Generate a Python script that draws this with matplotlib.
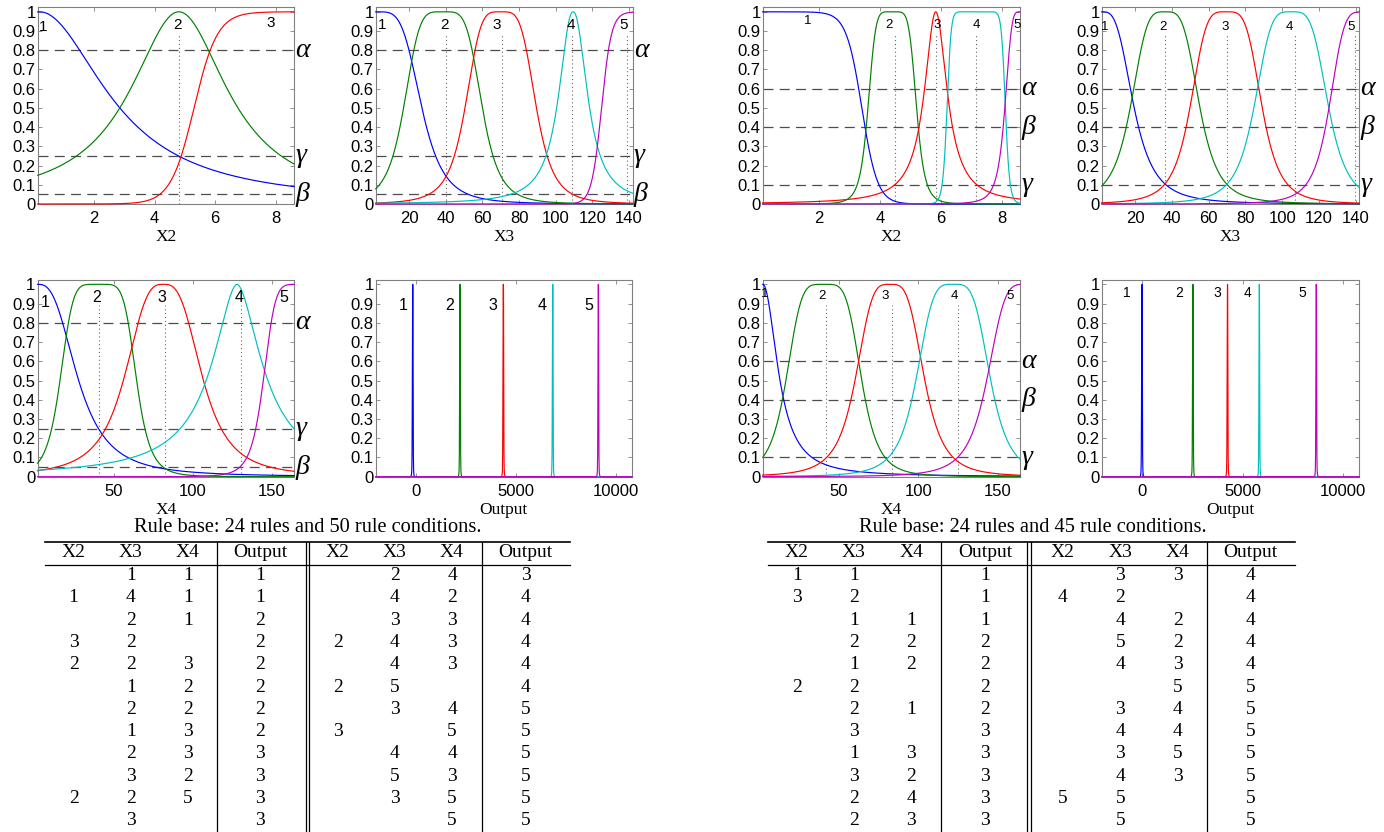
import numpy as np
import matplotlib
matplotlib.use("Agg")
import matplotlib.pyplot as plt

plt.rcParams["font.family"] = ["Liberation Sans", "DejaVu Sans"]
SERIF = ["Liberation Serif", "DejaVu Serif"]

W, H = 1384, 832

# membership function shapes (matlab style): gbell(a, b, c) or sig(a, c)
def gbellmf(x, a, b, c):
    return 1.0 / (1.0 + np.abs((x - c) / a) ** (2 * b))

def sigmf(x, a, c):
    return 1.0 / (1.0 + np.exp(-a * (x - c)))

MF = {"gbell": gbellmf, "sig": sigmf}
colors = ["#0000ff", "#008000", "#ff0000", "#00bfbf", "#bf00bf"]

# ---- model A: 24 rules and 50 rule conditions
a_x2 = [("gbell", 2.65, 1.0, 0.2), ("gbell", 1.95, 1.0, 4.8), ("sig", 2.6, 5.3)]
a_x3 = [("gbell", 25.0, 2.1, 2.0), ("gbell", 21.5, 2.3, 38.5), ("gbell", 19.5, 2.1, 70.0),
        ("gbell", 9.0, 1.1, 109.5), ("sig", 0.37, 125.0)]
a_x4 = [("gbell", 26.0, 1.4, 2.0), ("gbell", 24.2, 2.8, 40.4), ("gbell", 25.3, 1.5, 81.5),
        ("gbell", 19.5, 0.9, 128.0), ("gbell", 25.4, 3.2, 170.0)]
a_out = [("gbell", 20.0, 2.0, -150.0), ("gbell", 20.0, 2.0, 2215.0), ("gbell", 20.0, 2.0, 4380.0),
         ("gbell", 20.0, 2.0, 6850.0), ("gbell", 20.0, 2.0, 9130.0)]

# ---- model B: 24 rules and 45 rule conditions
b_x2 = [("sig", -3.9, 3.4), ("gbell", 0.8, 3.0, 4.4), ("gbell", 0.45, 1.0, 5.83),
        ("gbell", 0.96, 7.0, 7.16), ("gbell", 0.5, 2.0, 8.6)]
b_x3 = [("gbell", 17.5, 1.6, 2.0), ("gbell", 19.0, 1.9, 36.3), ("gbell", 19.7, 2.05, 69.5),
        ("gbell", 20.4, 2.0, 105.0), ("gbell", 19.5, 2.2, 145.0)]
b_x4 = [("gbell", 10.9, 1.05, 2.0), ("gbell", 23.9, 2.3, 40.5), ("gbell", 22.0, 1.85, 82.1),
        ("gbell", 23.6, 2.0, 122.0), ("gbell", 25.0, 2.0, 168.0)]
b_out = [("gbell", 20.0, 2.0, 0.0), ("gbell", 20.0, 2.0, 2530.0), ("gbell", 20.0, 2.0, 4250.0),
         ("gbell", 20.0, 2.0, 5830.0), ("gbell", 20.0, 2.0, 8660.0)]

ytick_vals = [0, 0.1, 0.2, 0.3, 0.4, 0.5, 0.6, 0.7, 0.8, 0.9, 1]
ytick_labels = ["0", "0.1", "0.2", "0.3", "0.4", "0.5", "0.6", "0.7", "0.8", "0.9", "1"]

levels_a = [0.8, 0.25, 0.05]
levels_b = [0.6, 0.4, 0.1]
greek_a = ["α", "γ", "β"]
greek_b = ["α", "β", "γ"]

# rule tables (blank = condition not used)
a_left = {"X2": ["", "1", "", "3", "2", "", "", "", "", "", "2", ""],
          "X3": ["1", "4", "2", "2", "2", "1", "2", "1", "2", "3", "2", "3"],
          "X4": ["1", "1", "1", "", "3", "2", "2", "3", "3", "2", "5", ""],
          "Output": ["1", "1", "2", "2", "2", "2", "2", "2", "3", "3", "3", "3"]}
a_right = {"X2": ["", "", "", "2", "", "2", "", "3", "", "", "", ""],
           "X3": ["2", "4", "3", "4", "4", "5", "3", "", "4", "5", "3", ""],
           "X4": ["4", "2", "3", "3", "3", "", "4", "5", "4", "3", "5", "5"],
           "Output": ["3", "4", "4", "4", "4", "4", "5", "5", "5", "5", "5", "5"]}
b_left = {"X2": ["1", "3", "", "", "", "2", "", "", "", "", "", ""],
          "X3": ["1", "2", "1", "2", "1", "2", "2", "3", "1", "3", "2", "2"],
          "X4": ["", "", "1", "2", "2", "", "1", "", "3", "2", "4", "3"],
          "Output": ["1", "1", "1", "2", "2", "2", "2", "3", "3", "3", "3", "3"]}
b_right = {"X2": ["", "4", "", "", "", "", "", "", "", "", "5", ""],
           "X3": ["3", "2", "4", "5", "4", "", "3", "4", "3", "4", "5", "5"],
           "X4": ["3", "", "2", "2", "3", "5", "4", "4", "5", "3", "", ""],
           "Output": ["4", "4", "4", "4", "4", "5", "5", "5", "5", "5", "5", "5"]}

fig = plt.figure(figsize=(W / 100, H / 100), dpi=100)


def px_axes(l, r, t, b):
    return fig.add_axes([l / W, 1 - b / H, (r - l) / W, (b - t) / H])


def draw_mf(ax, mfs, xlim, xticks, xlabel, label_xy, label_fs, dotted=(), levels=(), greek=()):
    x = np.linspace(xlim[0], xlim[1], 20001)
    for (kind, *p), col in zip(mfs, colors):
        ax.plot(x, MF[kind](x, *p), color=col, lw=0.85, clip_on=False, zorder=3)
    for xv in dotted:
        ax.plot([xv, xv], [0, 0.89], color="0.4", lw=0.8, ls=(0, (1, 2.5)), zorder=2)
    for lv, g in zip(levels, greek):
        ax.axhline(lv, color="0.3", lw=0.9, ls=(0, (8, 5)), zorder=2)
        ax.text(1.004, lv, g, transform=ax.get_yaxis_transform(), ha="left", va="center",
                fontsize=20, family=SERIF, style="italic")
    for i, (tx, ty) in enumerate(label_xy):
        ax.text(tx, ty, str(i + 1), ha="center", va="center", fontsize=label_fs, zorder=4)
    ax.set_xlim(xlim)
    ax.set_ylim(0, 1.025)
    ax.set_xticks(xticks)
    ax.set_xticklabels([str(t) for t in xticks])
    ax.set_yticks(ytick_vals)
    ax.set_yticklabels(ytick_labels)
    ax.tick_params(direction="in", top=True, right=True, length=3, width=0.6, color="0.5",
                   labelsize=12)
    ax.tick_params(axis="x", pad=5)
    ax.tick_params(axis="y", pad=1.5)
    for s in ax.spines.values():
        s.set_color("0.5")
        s.set_linewidth(0.8)
    ax.set_xlabel(xlabel, family=SERIF, fontsize=12.5, labelpad=2.5)


lim_x2 = (0.14, 8.6)
lim_x3 = (1.8, 142)
lim_x4 = (2, 164)
lim_out = (-2000, 10800)

# model A plots
ax = px_axes(37.7, 294, 7, 204)
draw_mf(ax, a_x2, lim_x2, [2, 4, 6, 8], "X2", [(0.31, 0.92), (4.74, 0.93), (7.83, 0.94)], 11,
        dotted=[4.8], levels=levels_a, greek=greek_a)
ax = px_axes(375.7, 632.7, 7, 204)
draw_mf(ax, a_x3, lim_x3, [20, 40, 60, 80, 100, 120, 140], "X3",
        [(5.1, 0.93), (39.6, 0.93), (67.8, 0.93), (108.2, 0.93), (136.9, 0.93)], 11,
        dotted=[40, 70.5, 109, 139], levels=levels_a, greek=greek_a)
ax = px_axes(37.5, 294, 279.5, 476.7)
draw_mf(ax, a_x4, lim_x4, [50, 100, 150], "X4",
        [(6.7, 0.905), (39.4, 0.93), (80.8, 0.93), (129.2, 0.93), (157.6, 0.93)], 11.5,
        dotted=[41, 82.5, 130.5], levels=levels_a, greek=greek_a)
ax = px_axes(375.7, 631.7, 279.5, 476.7)
draw_mf(ax, a_out, lim_out, [0, 5000, 10000], "Output",
        [(-620, 0.89), (1715, 0.89), (3880, 0.89), (6300, 0.89), (8680, 0.89)], 11.5)

# model B plots
ax = px_axes(762.7, 1020, 7, 204)
draw_mf(ax, b_x2, lim_x2, [2, 4, 6, 8], "X2",
        [(1.61, 0.95), (4.3, 0.93), (5.86, 0.93), (7.16, 0.93), (8.51, 0.93)], 9.5,
        dotted=[4.5, 5.85, 7.15], levels=levels_b, greek=greek_b)
ax = px_axes(1101.7, 1359.3, 7, 204)
draw_mf(ax, b_x3, lim_x3, [20, 40, 60, 80, 100, 120, 140], "X3",
        [(3.7, 0.92), (35.4, 0.92), (69, 0.92), (104.2, 0.92), (137.8, 0.92)], 9.5,
        dotted=[36.5, 70, 107, 139.5], levels=levels_b, greek=greek_b)
ax = px_axes(762.7, 1020, 279.5, 476.7)
draw_mf(ax, b_x4, lim_x4, [50, 100, 150], "X4",
        [(3.4, 0.95), (39.2, 0.94), (79, 0.94), (122.5, 0.94), (157.7, 0.94)], 9.5,
        dotted=[42, 83.5, 125], levels=levels_b, greek=greek_b)
ax = px_axes(1101.7, 1359.3, 279.5, 476.7)
draw_mf(ax, b_out, lim_out, [0, 5000, 10000], "Output",
        [(-760, 0.955), (1830, 0.955), (3720, 0.955), (5220, 0.955), (7960, 0.955)], 10)

# rule tables drawn on an overlay in pixel coordinates
ov = fig.add_axes([0, 0, 1, 1])
ov.set_xlim(0, W)
ov.set_ylim(H, 0)
ov.axis("off")


def draw_table(title, tx, x0, x1, col_x, vlines, left, right):
    ov.text(tx, 527, title, ha="center", va="center", family=SERIF, fontsize=14.7)
    ov.plot([x0, x1], [542, 542], color="black", lw=1.2)
    ov.plot([x0, x1], [564.5, 564.5], color="black", lw=0.9)
    for v in vlines:
        ov.plot([v, v], [542, H], color="black", lw=0.9)
    cols = ["X2", "X3", "X4", "Output"]
    for half, xs in ((left, col_x[:4]), (right, col_x[4:])):
        for name, cx in zip(cols, xs):
            ov.text(cx, 552.5, name, ha="center", va="center", family=SERIF, fontsize=14)
            for i, v in enumerate(half[name]):
                ov.text(cx, 575.5 + 22.3 * i, v, ha="center", va="center", family=SERIF,
                        fontsize=14)


draw_table("Rule base: 24 rules and 50 rule conditions.", 308, 45, 570,
           [73.6, 130.7, 187.8, 260, 338, 395, 452, 525.7], [217, 305.6, 309.4, 482],
           a_left, a_right)
draw_table("Rule base: 24 rules and 45 rule conditions.", 1033, 768, 1295,
           [796.7, 854, 911.4, 984.9, 1063, 1120.4, 1177.7, 1250.8], [940.8, 1026.8, 1030.8, 1207],
           b_left, b_right)

fig.savefig("out.png", dpi=100)
